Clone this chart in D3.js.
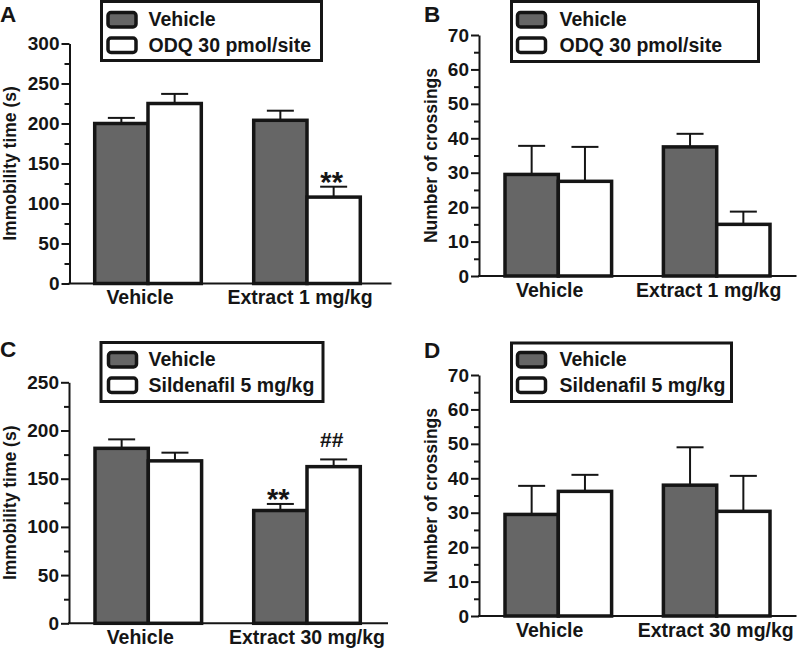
<!DOCTYPE html>
<html><head><meta charset="utf-8">
<script src="https://cdn.jsdelivr.net/npm/d3@7/dist/d3.min.js"></script>
<style>
html,body{margin:0;padding:0;background:#fff;}
svg{display:block;font-family:"Liberation Sans",Arial,Helvetica,sans-serif;font-weight:bold;}
</style></head>
<body>
<svg id="chart" width="800" height="648"></svg>
<script>
// ---------------- DATA ----------------
const categoriesAB = ["Vehicle", "Extract 1 mg/kg"];
const categoriesCD = ["Vehicle", "Extract 30 mg/kg"];
const seriesAB = ["Vehicle", "ODQ 30 pmol/site"];
const seriesCD = ["Vehicle", "Sildenafil 5 mg/kg"];

// Panel A: immobility time (s)
const A_vehicleMean = [200, 204];
const A_vehicleSem  = [7, 12];
const A_odqMean     = [225, 108];
const A_odqSem      = [12, 13];

// Panel B: number of crossings
const B_vehicleMean = [29.5, 37.5];
const B_vehicleSem  = [8.3, 3.8];
const B_odqMean     = [27.5, 15];
const B_odqSem      = [10, 3.7];

// Panel C: immobility time (s)
const C_vehicleMean = [181.5, 117];
const C_vehicleSem  = [9.3, 6.8];
const C_sildMean    = [168.5, 162.5];
const C_sildSem     = [8.5, 7.5];

// Panel D: number of crossings
const D_vehicleMean = [29.5, 38];
const D_vehicleSem  = [8.3, 11];
const D_sildMean    = [36.2, 30.4];
const D_sildSem     = [4.8, 10.3];

const ticksImmA = [0, 50, 100, 150, 200, 250, 300];
const ticksImmC = [0, 50, 100, 150, 200, 250];
const ticksCross = [0, 10, 20, 30, 40, 50, 60, 70];

// significance marks: [category index, series index, text]
const A_marks = [[1, 1, "**"]];
const C_marks = [[1, 0, "**"], [1, 1, "##"]];

// ---------------- LAYOUT ----------------
const svg = d3.select("#chart");
const colors = ["#666666", "#ffffff"];
const ink = "#151515";

const panels = [
  {letter:"A", lx:0, ly:22, x0:69.5, x1:391.5, yTop:43.5, yBot:283.5, yMax:300, ticks:ticksImmA, minor:25,
   title:"Immobility time (s)", titleX:10, cats:categoriesAB, series:seriesAB,
   means:[A_vehicleMean, A_odqMean], sems:[A_vehicleSem, A_odqSem], marks:A_marks,
   centers:[148, 307], labelDx:[-8, -7], labelY:304,
   leg:{x:101.5, y:1.5, w:220, h:59, sx:108, tx:148.5, rows:[[12.5,26],[38,51.7]]}},
  {letter:"B", lx:424, ly:21.5, x0:479, x1:796.5, yTop:35, yBot:276, yMax:70, ticks:ticksCross, minor:5,
   title:"Number of crossings", titleX:431, cats:categoriesAB, series:seriesAB,
   means:[B_vehicleMean, B_odqMean], sems:[B_vehicleSem, B_odqSem], marks:[],
   centers:[558.3, 716.7], labelDx:[-8.6, -8], labelY:297,
   leg:{x:511.5, y:1.5, w:247, h:60, sx:517.5, tx:559.5, rows:[[12.5,26],[38,51.7]]}},
  {letter:"C", lx:0, ly:357, x0:69, x1:388, yTop:382.3, yBot:623.3, yMax:250, ticks:ticksImmC, minor:25,
   title:"Immobility time (s)", titleX:10, cats:categoriesCD, series:seriesCD,
   means:[C_vehicleMean, C_sildMean], sems:[C_vehicleSem, C_sildSem], marks:C_marks,
   centers:[148.3, 307], labelDx:[-8, 0], labelY:643.5,
   leg:{x:101, y:342.5, w:222, h:59, sx:108.5, tx:148.5, rows:[[352.5,365.7],[378,391.5]]}},
  {letter:"D", lx:424, ly:358, x0:479, x1:796.5, yTop:375, yBot:616, yMax:70, ticks:ticksCross, minor:5,
   title:"Number of crossings", titleX:431, cats:categoriesCD, series:seriesCD,
   means:[D_vehicleMean, D_sildMean], sems:[D_vehicleSem, D_sildSem], marks:[],
   centers:[558.3, 716.7], labelDx:[-8.6, -1], labelY:637,
   leg:{x:511.5, y:343, w:220, h:58.5, sx:517.5, tx:559.5, rows:[[352.5,365.7],[378,391.5]]}}
];

const barW = 53.3;

panels.forEach(p => {
  const g = svg.append("g");
  const y = d3.scaleLinear().domain([0, p.yMax]).range([p.yBot, p.yTop]);
  const step = p.centers[1] - p.centers[0];
  const pi = 1 - (2 * barW) / step;
  const x = d3.scaleBand().domain(p.cats)
    .range([p.centers[0] - step / 2, p.centers[1] + step / 2])
    .paddingInner(pi).paddingOuter(pi / 2);
  const xs = d3.scaleBand().domain(p.series).range([0, x.bandwidth()]);

  // minor ticks
  const minorVals = d3.range(0, p.yMax + 0.001, p.minor).filter(v => !p.ticks.includes(v));
  g.append("g").attr("transform", `translate(${p.x0},0)`)
    .call(d3.axisLeft(y).tickValues(minorVals).tickSize(5).tickSizeOuter(0).tickFormat(""))
    .call(a => a.select(".domain").remove())
    .call(a => a.selectAll("line").attr("stroke", ink).attr("stroke-width", 2));

  // major axis
  g.append("g").attr("transform", `translate(${p.x0},0)`)
    .call(d3.axisLeft(y).tickValues(p.ticks).tickSize(8).tickSizeOuter(0).tickPadding(2))
    .call(a => a.select(".domain").attr("stroke", ink).attr("stroke-width", 2))
    .call(a => a.selectAll("line").attr("stroke", ink).attr("stroke-width", 2))
    .call(a => a.selectAll("text").attr("fill", ink).attr("font-size", 19)
      .attr("font-weight", "bold").attr("font-family", "Liberation Sans, Arial, sans-serif"));

  // x axis baseline
  g.append("line").attr("x1", p.x0 - 1).attr("x2", p.x1)
    .attr("y1", y(0)).attr("y2", y(0)).attr("stroke", ink).attr("stroke-width", 2);

  // bars
  p.series.forEach((s, si) => {
    p.cats.forEach((c, ci) => {
      const m = p.means[si][ci], e = p.sems[si][ci];
      const bx = x(c) + xs(s), cx = bx + xs.bandwidth() / 2;
      // error bar (upper only)
      g.append("line").attr("x1", cx).attr("x2", cx).attr("y1", y(m)).attr("y2", y(m + e))
        .attr("stroke", ink).attr("stroke-width", 2);
      g.append("line").attr("x1", cx - 13.5).attr("x2", cx + 13.5).attr("y1", y(m + e)).attr("y2", y(m + e))
        .attr("stroke", ink).attr("stroke-width", 2);
      g.append("rect").attr("x", bx).attr("y", y(m))
        .attr("width", xs.bandwidth()).attr("height", y(0) - y(m))
        .attr("fill", colors[si]).attr("stroke", ink).attr("stroke-width", 3.5);
    });
  });

  // significance marks
  p.marks.forEach(([ci, si, t]) => {
    const c = p.cats[ci], s = p.series[si];
    const cx = x(c) + xs(s) + xs.bandwidth() / 2;
    const top = y(p.means[si][ci] + p.sems[si][ci]);
    const isHash = t[0] === "#";
    g.append("text").attr("x", cx - 2).attr("y", isHash ? top - 12.5 : top + 5)
      .attr("text-anchor", "middle").attr("font-size", isHash ? 21 : 29)
      .attr("fill", ink).text(t);
  });

  // category labels
  p.cats.forEach((c, ci) => {
    g.append("text").attr("x", x(c) + x.bandwidth() / 2 + p.labelDx[ci]).attr("y", p.labelY)
      .attr("text-anchor", "middle").attr("font-size", 19.5).attr("fill", ink).text(c);
  });

  // y title
  g.append("text").attr("transform", `translate(${p.titleX + 6},${(p.yTop + p.yBot) / 2}) rotate(-90)`)
    .attr("text-anchor", "middle").attr("font-size", 17.5).attr("fill", ink).text(p.title);

  // panel letter
  g.append("text").attr("x", p.lx).attr("y", p.ly).attr("font-size", 22.5).attr("fill", ink).text(p.letter);

  // legend
  const L = p.leg;
  g.append("rect").attr("x", L.x).attr("y", L.y).attr("width", L.w).attr("height", L.h)
    .attr("fill", "#fff").attr("stroke", ink).attr("stroke-width", 3);
  p.series.forEach((s, si) => {
    const [ry, by] = L.rows[si];
    g.append("rect").attr("x", L.sx).attr("y", ry).attr("width", 28).attr("height", 14.5)
      .attr("rx", 3).attr("fill", colors[si]).attr("stroke", ink).attr("stroke-width", 3.5);
    g.append("text").attr("x", L.tx).attr("y", by).attr("font-size", 19.5).attr("fill", ink).text(s);
  });
});
</script>
</body></html>
